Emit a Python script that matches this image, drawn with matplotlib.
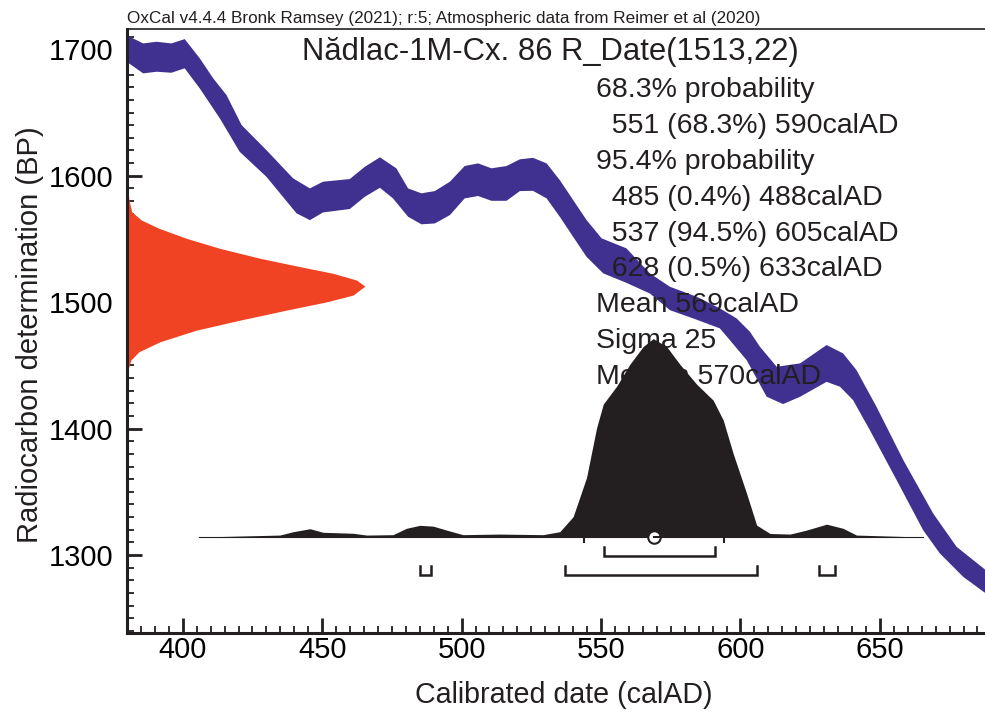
import numpy as np
import matplotlib
matplotlib.use("Agg")
import matplotlib.pyplot as plt

plt.rcParams['font.family'] = ['Liberation Sans', 'DejaVu Sans']

# calibration curve band (upper / lower edge), cal AD vs BP
cal_up_x = [380, 385.8, 390.6, 395.9, 400.7, 406.1, 410.9, 415.7, 421.1, 430.0, 439.6, 445.6, 450.3,
            459.9, 465.3, 470.7, 476.6, 480.8, 485.6, 490.4, 495.8, 501.1, 505.9, 510.7, 516.1, 520.9,
            525.6, 530.5, 535.2, 540.0, 544.8, 550.2, 559.1, 567.5, 574.7, 584.3, 592.6, 598.6, 603.4,
            607.0, 613.0, 621.4, 630.9, 636.8, 641.6, 648.8, 658.4, 669.1, 677.5, 688]
cal_up_bp = [1711, 1704.7, 1706, 1704.7, 1708.1, 1692.9, 1677.1, 1663.8, 1640.1, 1620.3, 1597.9, 1590,
             1595.3, 1597.4, 1607.1, 1614.6, 1605.9, 1590, 1586.1, 1587.9, 1595.3, 1607.7, 1609.8, 1605.9,
             1607.7, 1613, 1614.2, 1609.8, 1596.6, 1580.8, 1565, 1550.5, 1542.6, 1522.8, 1512.2, 1504.3,
             1495.1, 1487.2, 1476.6, 1464.7, 1448.9, 1451.6, 1466.1, 1459.5, 1446.3, 1417.2, 1375.1,
             1332.9, 1306.5, 1288]
cal_lo_x = [380, 385.8, 390.6, 395.9, 400.7, 406.1, 413.3, 420.4, 430.0, 440.8, 445.6, 450.3, 459.9,
            465.3, 470.7, 475.4, 480.8, 485.6, 490.4, 495.8, 501.1, 505.9, 510.7, 516.1, 520.9, 525.6,
            530.5, 535.2, 540.0, 544.8, 550.8, 559.1, 567.5, 574.7, 583.0, 592.6, 596.2, 602.2, 609.4,
            615.3, 621.4, 630.9, 635.7, 640.4, 646.4, 656.0, 665.5, 671.5, 679.9, 688]
cal_lo_bp = [1690, 1681, 1682.3, 1681.5, 1685, 1669.1, 1645.4, 1619, 1599.2, 1570.3, 1564.9, 1571,
             1573.7, 1583.4, 1590.5, 1582.1, 1567.6, 1561.6, 1562.3, 1568.9, 1582.1, 1584, 1580.2, 1580.2,
             1587.9, 1588.1, 1582.1, 1567.6, 1551.7, 1535.9, 1522.8, 1515.3, 1506.9, 1493.7, 1487.2,
             1479.3, 1470, 1454.2, 1425.2, 1419.4, 1425.2, 1437, 1433.1, 1422.5, 1398.8, 1359.3, 1319.7,
             1301.3, 1282.7, 1269.6]

# radiocarbon date distribution (red), BP vs relative probability
r_bp = [1597, 1581, 1571.5, 1565, 1558.4, 1550.5, 1542.6, 1534.7, 1528, 1522.8, 1517.5, 1512.7,
        1505.6, 1500.3, 1493.7, 1485.8, 1477.8, 1468.7, 1460.8, 1454.2, 1446.3, 1433]
r_prob = [0, 0.008, 0.02, 0.06, 0.135, 0.25, 0.39, 0.56, 0.73, 0.867, 0.965, 1.0,
          0.95, 0.84, 0.67, 0.475, 0.29, 0.139, 0.05, 0.016, 0.004, 0]

# calibrated distribution (black), cal AD vs relative probability
c_cal = [405.7, 434.8, 439.6, 445.6, 450.3, 461.1, 465.9, 475.4, 480.2, 485.0, 489.8, 494.6, 500.5,
         513.7, 529.2, 535.2, 540.0, 544.8, 548.4, 550.8, 555.6, 560.3, 565.1, 568.7, 573.5, 578.3,
         584.3, 590.2, 593.8, 597.4, 602.2, 605.8, 610.6, 617.8, 623.7, 630.9, 636.8, 641.6, 665.5]
c_prob = [0, 0.01, 0.027, 0.042, 0.024, 0.019, 0.01, 0.012, 0.044, 0.059, 0.055, 0.035, 0.012,
          0.015, 0.012, 0.027, 0.103, 0.30, 0.55, 0.67, 0.76, 0.87, 0.96, 1.0, 0.96, 0.87,
          0.77, 0.69, 0.59, 0.42, 0.22, 0.06, 0.018, 0.015, 0.035, 0.065, 0.044, 0.01, 0]

ranges_68 = [(551, 590)]
ranges_95 = [(485, 488), (537, 605), (628, 633)]
mean_cal = 569
sigma_cal = 25

header = "OxCal v4.4.4 Bronk Ramsey (2021); r:5; Atmospheric data from Reimer et al (2020)"
title = "Nădlac-1M-Cx. 86 R_Date(1513,22)"
lines = ["68.3% probability", "  551 (68.3%) 590calAD", "95.4% probability",
         "  485 (0.4%) 488calAD", "  537 (94.5%) 605calAD", "  628 (0.5%) 633calAD",
         "Mean 569calAD", "Sigma 25", "Median 570calAD"]

BLUE = '#40308f'
RED = '#f04324'
BLACK = '#231f20'

fig = plt.figure(figsize=(9.85, 7.13), dpi=100)
ax = fig.add_axes([127/985, 1 - 633/713, 1 - 127/985, (633 - 28.5)/713])
ax.set_xlim(380, 687.7)
ax.set_ylim(1238.3, 1716.5)

# red radiocarbon gaussian along y axis
red_w = 85.3
ax.fill_betweenx(r_bp, 380, 380 + red_w*np.array(r_prob), color=RED, lw=0, zorder=2)

# calibration band
poly_x = np.concatenate([cal_up_x, cal_lo_x[::-1]])
poly_y = np.concatenate([cal_up_bp, cal_lo_bp[::-1]])
ax.fill(poly_x, poly_y, color=BLUE, lw=0, zorder=2)

# text block
for i, s in enumerate(lines):
    ax.text(596/985, 1 - (90 + i*35.9)/713, s, transform=fig.transFigure, fontsize=20.5,
            ha='left', va='center', color=BLACK, zorder=3, clip_on=False)
ax.text(550/985, 1 - 52/713, title, transform=fig.transFigure, fontsize=22.3,
        ha='center', va='center', color=BLACK, zorder=3)
ax.text(127/985, 1 - 18/713, header, transform=fig.transFigure, fontsize=12.3,
        ha='left', va='center', color=BLACK, clip_on=False)

# calibrated distribution
base = 1314.2
hgt = 157
ax.fill_between(c_cal, base, base + hgt*np.array(c_prob), color=BLACK, lw=0, zorder=4)
ax.plot([c_cal[0], c_cal[-1]], [base, base], color=BLACK, lw=0.8, zorder=4)

# sigma ticks and mean
for s in (mean_cal - sigma_cal, mean_cal + sigma_cal):
    ax.plot([s, s], [base, base - 4], color=BLACK, lw=1.5, zorder=4)
ax.plot(mean_cal, base, 'o', ms=9, mfc='white', mec=BLACK, mew=1.5, zorder=5)
ax.plot([mean_cal, mean_cal + 2], [base, base], color=BLACK, lw=1.5, zorder=6)

# range brackets
def bracket(lo, hi, y):
    ax.plot([lo, lo, hi + 1, hi + 1], [y + 7, y, y, y + 7], color=BLACK, lw=1.8, zorder=4,
            solid_joinstyle='miter')

for lo, hi in ranges_68:
    bracket(lo, hi, 1299.1)
for lo, hi in ranges_95:
    bracket(lo, hi, 1284.1)

# axes styling
ax.spines['right'].set_visible(False)
ax.spines['left'].set_linewidth(2.2)
ax.spines['bottom'].set_linewidth(2.2)
ax.spines['top'].set_linewidth(1.2)
for sp in ax.spines.values():
    sp.set_color(BLACK)

ax.set_xticks(np.arange(400, 651, 50))
ax.set_xticks(np.arange(380, 688, 5), minor=True)
ax.set_yticks(np.arange(1300, 1701, 100))
ax.set_yticks(np.arange(1240, 1716, 10), minor=True)
ax.tick_params(which='major', direction='in', length=11, width=2, labelsize=21, color=BLACK)
ax.tick_params(which='minor', direction='in', length=5, width=1.3, color=BLACK)
ax.tick_params(axis='y', which='major', pad=10)
ax.tick_params(axis='x', which='major', pad=2)

fig.text(564/985, 1 - 695/713, "Calibrated date (calAD)", fontsize=20.6, ha='center', va='center',
         color=BLACK)
fig.text(30/985, 1 - 335/713, "Radiocarbon determination (BP)", fontsize=21, ha='center',
         va='center', rotation=90, color=BLACK)

fig.savefig("out.png", dpi=100)
